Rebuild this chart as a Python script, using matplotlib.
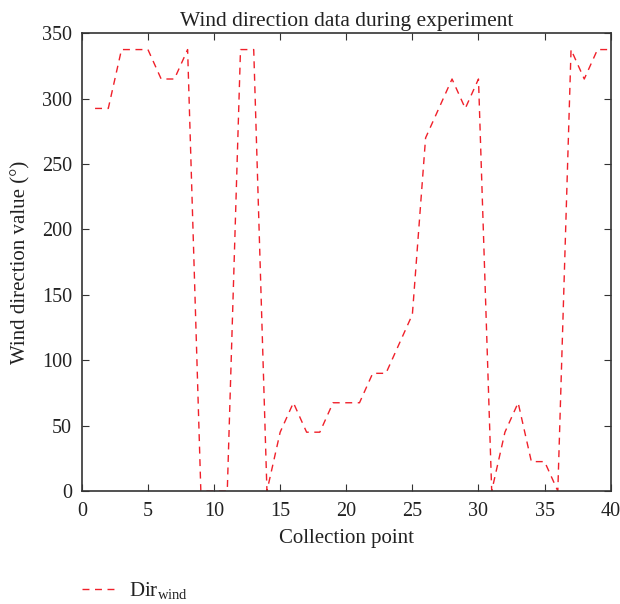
import matplotlib
matplotlib.use("Agg")
import matplotlib.pyplot as plt

plt.rcParams['font.family'] = ['Liberation Serif', 'DejaVu Serif']
plt.rcParams['mathtext.fontset'] = 'custom'
plt.rcParams['mathtext.rm'] = 'Liberation Serif'

collection_points = list(range(1, 41))
wind_direction = [292.5, 292.5, 337.5, 337.5, 337.5, 315, 315, 337.5, 0, 0,
                  0, 337.5, 337.5, 0, 45, 67.5, 45, 45, 67.5, 67.5,
                  67.5, 90, 90, 112.5, 135, 270, 292.5, 315, 292.5, 315,
                  0, 45, 67.5, 22.5, 22.5, 0, 337.5, 315, 337.5, 337.5]
x_ticks = [0, 5, 10, 15, 20, 25, 30, 35, 40]
y_ticks = [0, 50, 100, 150, 200, 250, 300, 350]

fig = plt.figure(figsize=(6.2, 6.04), dpi=100)
ax = fig.add_axes([0.132, 0.187, 0.853, 0.758])
line, = ax.plot(collection_points, wind_direction, color='#f0202a', linestyle=(0, (5, 4)),
                linewidth=1.0, label=r'Dir$_{\mathrm{wind}}$')
ax.set_xlim(0, 40)
ax.set_ylim(0, 350)
ax.set_xticks(x_ticks)
ax.set_yticks(y_ticks)
ax.tick_params(direction='in', top=True, right=True, labelsize=14.5, length=5,
               color='#333333', labelcolor='#222222')
ax.tick_params(axis='y', pad=7)
ax.tick_params(axis='x', pad=8)
for s in ax.spines.values():
    s.set_color('#333333')
    s.set_linewidth(1.2)
ax.set_title('Wind direction data during experiment', fontsize=15.5, pad=5, color='#222222')
ax.set_xlabel('Collection point', fontsize=15, labelpad=6, color='#222222')
ax.set_ylabel('Wind direction value (°)', fontsize=15, labelpad=8, color='#222222')
fig.legend(handles=[line], loc='center left', bbox_to_anchor=(0.132, 0.022), frameon=False,
           fontsize=15, handlelength=1.68, handletextpad=0.6, borderpad=0, borderaxespad=0,
           labelcolor='#222222')
fig.savefig('out.png', dpi=100)
